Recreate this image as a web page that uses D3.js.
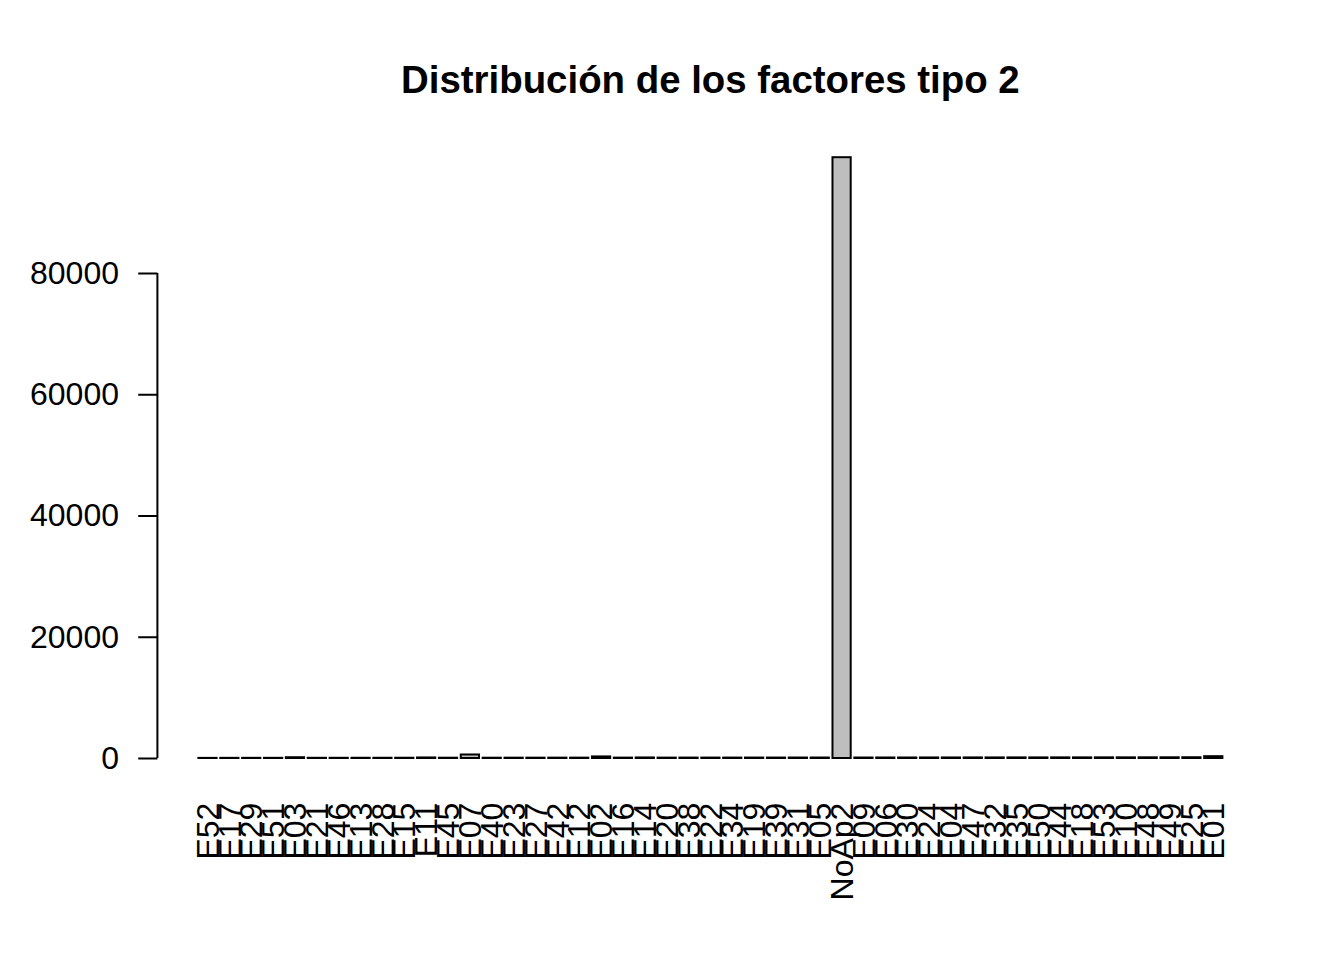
<!DOCTYPE html>
<html>
<head>
<meta charset="utf-8">
<script src="https://cdn.jsdelivr.net/npm/d3@7"></script>
<style>
  body { margin: 0; background: white; }
  text { font-family: "Liberation Sans", Arial, sans-serif; fill: black; }
</style>
</head>
<body>
<svg id="canvas"></svg>
<script>
var width = 1344
var height = 960

// factores tipo 2, in the order they are drawn
var categories = ["E52", "E17", "E29", "E51", "E03", "E21", "E46", "E13", "E28", "E15",
  "E11", "E45", "E07", "E40", "E23", "E27", "E42", "E12", "E02", "E16",
  "E14", "E20", "E38", "E22", "E34", "E19", "E39", "E31", "E05", "NoAp2",
  "E09", "E06", "E30", "E24", "E04", "E47", "E32", "E35", "E50", "E44",
  "E18", "E53", "E10", "E48", "E49", "E25", "E01"]

var counts = [20, 25, 30, 30, 130, 35, 35, 40, 40, 45,
  90, 50, 580, 50, 55, 55, 60, 60, 260, 65,
  90, 65, 70, 70, 70, 75, 75, 80, 80, 99100,
  80, 85, 85, 90, 90, 95, 95, 100, 100, 105,
  105, 110, 110, 115, 120, 125, 300]

var yTicks = [0, 20000, 40000, 60000, 80000]

var title = "Distribución de los factores tipo 2"

var svg = d3.select("#canvas")
  .attr("width", width)
  .attr("height", height)

// plot region (R default margins at 192 dpi)
var left = 157.4
var right = 1263.4
var bottom = 764.2

var x = d3.scaleBand()
  .domain(categories)
  .range([198.4, 1222.4])
  .paddingInner(0.2 / 1.2)
  .paddingOuter(0)

var y = d3.scaleLinear()
  .domain([0, 80000])
  .range([758, 273])

svg.append("text")
  .attr("x", (left + right) / 2)
  .attr("y", 93)
  .attr("text-anchor", "middle")
  .style("font-size", "38.4px")
  .style("font-weight", "bold")
  .text(title)

svg.selectAll("rect.bar")
  .data(counts)
  .join("rect")
  .attr("class", "bar")
  .attr("x", function(d, i) { return x(categories[i]) })
  .attr("y", function(d) { return y(d) })
  .attr("width", x.bandwidth())
  .attr("height", function(d) { return y(0) - y(d) })
  .attr("fill", "#bebebe")
  .attr("stroke", "black")
  .attr("stroke-width", 2)

// y axis, R style
var yAxis = d3.axisLeft(y)
  .tickValues(yTicks)
  .tickFormat(d3.format("d"))
  .tickSize(19.2)
  .tickPadding(19.2)

var gy = svg.append("g")
  .attr("transform", "translate(" + left + ",0)")
  .call(yAxis)

gy.select(".domain")
  .attr("d", "M0," + y(yTicks[0]) + "V" + y(yTicks[yTicks.length - 1]))
  .attr("stroke", "black")
  .attr("stroke-width", 2)

gy.selectAll(".tick line")
  .attr("stroke", "black")
  .attr("stroke-width", 2)

gy.selectAll(".tick text")
  .attr("font-family", null)
  .style("font-size", "32px")
  .attr("fill", "black")

// bar names, perpendicular to the axis
svg.append("g")
  .selectAll("text")
  .data(categories)
  .join("text")
  .attr("transform", function(d) {
    return "translate(" + (x(d) + x.bandwidth() / 2) + "," + (bottom + 38.4) + ") rotate(-90)"
  })
  .attr("text-anchor", "end")
  .attr("dy", "0.35em")
  .style("font-size", "32px")
  .text(function(d) { return d })
</script>
</body>
</html>
